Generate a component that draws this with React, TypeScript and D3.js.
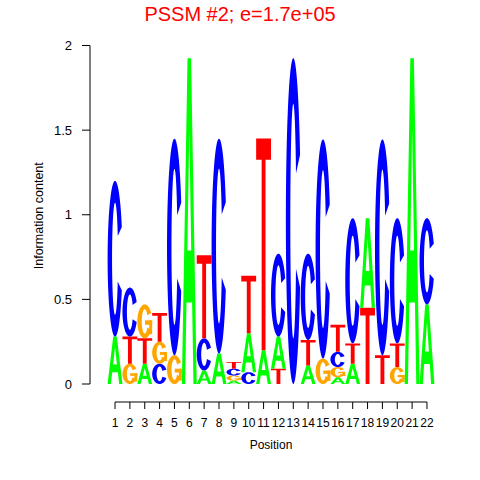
import React from "react";
import * as d3 from "d3";

const positions = d3.range(1, 23);
const letterOrder = ["A", "C", "G", "T"];
// information content (bits) for each letter at positions 1..22
const infoA = [0.28, 0, 0.12, 0, 0, 1.925, 0.08, 0.18, 0.02, 0.23, 0.2, 0.19, 0, 0.11, 0, 0.04, 0.12, 0.53, 0, 0, 1.925, 0.47];
const infoC = [0.92, 0.29, 0, 0.12, 1.28, 0, 0.19, 1.27, 0.04, 0.07, 0, 0.49, 1.925, 0.51, 1.295, 0.09, 0.74, 0, 1.275, 0.74, 0, 0.51];
const infoG = [0, 0.12, 0.2, 0.13, 0.17, 0, 0, 0, 0.03, 0, 0, 0, 0, 0, 0.15, 0.06, 0, 0, 0, 0.1, 0, 0];
const infoT = [0, 0.16, 0.15, 0.17, 0, 0, 0.49, 0, 0.04, 0.34, 1.25, 0.09, 0, 0.15, 0, 0.16, 0.12, 0.45, 0.17, 0.14, 0, 0];
const yTicks = [0, 0.5, 1, 1.5, 2];
const yTickLabels = ["0", "0.5", "1", "1.5", "2"];
const titleText = "PSSM #2; e=1.7e+05";
const xLabel = "Position";
const yLabel = "Information content";

const colors: Record<string, string> = { A: "#00FF00", C: "#0000FF", G: "#FFA500", T: "#FF0000" };

function arcShape(start: number, end: number, rxIn: number, ryIn: number) {
  const outer = d3.range(start, end + 0.01, 4).map((deg) => {
    const t = (deg * Math.PI) / 180;
    return [0.5 + 0.5 * Math.cos(t), 0.5 - 0.5 * Math.sin(t)];
  });
  const inner = d3.range(end, start - 0.01, -4).map((deg) => {
    const t = (deg * Math.PI) / 180;
    return [0.5 + rxIn * Math.cos(t), 0.5 - ryIn * Math.sin(t)];
  });
  const pts = outer.concat(inner);
  return "M" + pts.map((p) => p[0].toFixed(4) + "," + p[1].toFixed(4)).join("L") + "Z";
}

const glyphs: Record<string, string[]> = {
  A: ["M0,1L0.38,0L0.62,0L1,1L0.78,1L0.69,0.75L0.31,0.75L0.22,1ZM0.37,0.59L0.63,0.59L0.5,0.22Z"],
  C: [arcShape(24, 336, 0.2, 0.36)],
  G: [arcShape(30, 330, 0.2, 0.36), "M0.52,0.47H1V0.6H0.52Z", "M0.8,0.47H1V0.88H0.8Z"],
  T: ["M0,0H1V0.1H0.63V1H0.37V0.1H0Z"],
};

export default function App() {
  const x = d3.scaleLinear().domain([0.5, 22.5]).range([107.6, 434.4]);
  const y = d3.scaleLinear().domain([0, 2]).range([384, 45.5]);
  const colW = x(1.5) - x(0.5);
  const series: Record<string, number[]> = { A: infoA, C: infoC, G: infoG, T: infoT };

  const marks: { key: string; l: string; x0: number; y0: number; w: number; h: number }[] = [];
  positions.forEach((p, i) => {
    const entries = letterOrder
      .map((l) => ({ l, v: series[l][i] }))
      .filter((e) => e.v > 0)
      .sort((a, b) => a.v - b.v);
    let cum = 0;
    entries.forEach((e) => {
      const yb = y(cum);
      const yt = y(cum + e.v);
      marks.push({ key: p + e.l, l: e.l, x0: x(p - 0.5), y0: yt, w: colW, h: yb - yt });
      cum += e.v;
    });
  });

  const font = "'Liberation Sans', Arial, Helvetica, sans-serif";
  const axisY = 402;
  return (
    <svg width={480} height={480} style={{ position: "absolute", left: 0, top: 0, background: "#fff" }}>
      <rect x={0} y={0} width={480} height={480} fill="#fff" />
      <text x={240} y={21} textAnchor="middle" fill="#FF0000" fontFamily={font} fontSize={20}>
        {titleText}
      </text>
      {marks.map((m) => (
        <g key={m.key} transform={`translate(${m.x0},${m.y0}) scale(${m.w},${m.h})`}>
          {glyphs[m.l].map((d, j) => (
            <path key={j} d={d} fill={colors[m.l]} fillRule="evenodd" />
          ))}
        </g>
      ))}
      {/* y axis */}
      <line x1={90} x2={90} y1={y(0)} y2={y(2)} stroke="#000" strokeWidth={1} />
      {yTicks.map((t, i) => (
        <g key={t}>
          <line x1={82} x2={90} y1={y(t)} y2={y(t)} stroke="#000" />
          <text x={72} y={y(t)} dy="0.35em" textAnchor="end" fontFamily={font} fontSize={13} fill="#000">
            {yTickLabels[i]}
          </text>
        </g>
      ))}
      <text
        transform={`translate(43,${(y(0) + y(2)) / 2 + 1}) rotate(-90)`}
        textAnchor="middle"
        fontFamily={font}
        fontSize={12.5}
        fill="#000"
      >
        {yLabel}
      </text>
      {/* x axis */}
      <line x1={x(1)} x2={x(22)} y1={axisY} y2={axisY} stroke="#000" />
      {positions.map((p) => (
        <g key={p}>
          <line x1={x(p)} x2={x(p)} y1={axisY} y2={axisY + 7} stroke="#000" />
          <text x={x(p)} y={423} dy="0.35em" textAnchor="middle" fontFamily={font} fontSize={12} fill="#000">
            {p}
          </text>
        </g>
      ))}
      <text x={(x(1) + x(22)) / 2} y={445} dy="0.35em" textAnchor="middle" fontFamily={font} fontSize={12} fill="#000">
        {xLabel}
      </text>
    </svg>
  );
}
